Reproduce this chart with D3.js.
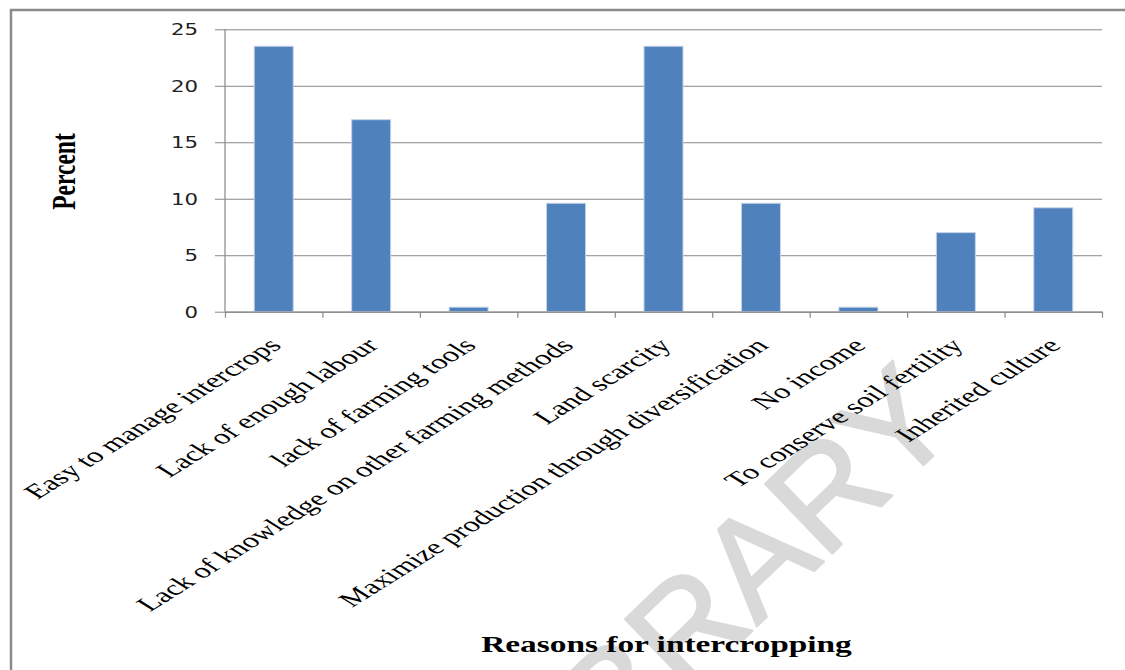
<!DOCTYPE html>
<html>
<head>
<meta charset="utf-8">
<script src="https://cdn.jsdelivr.net/npm/d3@7/dist/d3.min.js"></script>
<style>
  html, body { margin: 0; padding: 0; background: #fff; }
  svg { display: block; }
</style>
</head>
<body>
<svg id="chart" width="1125" height="670"></svg>
<script>
// ---- data ----
const categories = [
  "Easy to manage intercrops",
  "Lack of enough labour",
  "lack of farming tools",
  "Lack of knowledge on other farming methods",
  "Land scarcity",
  "Maximize production through diversification",
  "No income",
  "To conserve soil fertility",
  "Inherited culture"
];
const values = [23.5, 17.0, 0.4, 9.6, 23.5, 9.6, 0.4, 7.0, 9.2];
const yTicks = [0, 5, 10, 15, 20, 25];
const yTitle = "Percent";
const xTitle = "Reasons for intercropping";
const watermark = "LIBRARY";

// ---- layout ----
const W = 1125, H = 670;
const plot = { left: 225, right: 1102, top: 29.3, bottom: 311.7 };
const gridColor = "#878787";

const svg = d3.select("#chart");

// outer frame
svg.append("rect")
  .attr("x", 11).attr("y", 10)
  .attr("width", W + 20).attr("height", H + 20)
  .attr("fill", "#fff")
  .attr("stroke", "#8a8a8a")
  .attr("stroke-width", 2.5);

// watermark (behind everything)
svg.append("text")
  .attr("transform", "translate(962,428) rotate(-44)")
  .attr("text-anchor", "end")
  .attr("font-family", "Liberation Sans, Arial, sans-serif")
  .attr("font-size", 140)
  .attr("fill", "#d9d9d9")
  .attr("stroke", "#d9d9d9")
  .attr("stroke-width", 2.5)
  .attr("stroke-linejoin", "round")
  .text(watermark);

const x = d3.scaleBand()
  .domain(categories)
  .range([plot.left, plot.right])
  .paddingInner(0.6)
  .paddingOuter(0.3);

const y = d3.scaleLinear()
  .domain([0, 25])
  .range([plot.bottom, plot.top]);

// gridlines (extend 10px left of axis, like tick marks)
const grid = svg.append("g")
  .attr("transform", `translate(${plot.left - 10},0)`)
  .call(d3.axisRight(y).tickValues(yTicks)
    .tickSize(plot.right - plot.left + 10).tickFormat(""));
grid.select(".domain").remove();
grid.selectAll("line").attr("stroke", gridColor).attr("stroke-width", 1);

// y tick labels
const yAxis = svg.append("g")
  .attr("transform", `translate(${plot.left},0)`)
  .call(d3.axisLeft(y).tickValues(yTicks).tickSize(0).tickFormat(d3.format("d")));
yAxis.select(".domain").remove();
yAxis.selectAll("text")
  .attr("x", null)
  .attr("dy", "0.36em")
  .attr("transform", "translate(-27,0) scale(1.42,1)")
  .attr("font-family", "DejaVu Sans, Verdana, sans-serif")
  .attr("font-size", 15)
  .attr("fill", "#222");

// bars
svg.append("g").selectAll("rect")
  .data(values)
  .join("rect")
  .attr("x", (d, i) => x(categories[i]))
  .attr("width", x.bandwidth())
  .attr("y", d => y(d))
  .attr("height", d => y(0) - y(d))
  .attr("fill", "#4F81BD")
  .attr("stroke", "#c4d3e8")
  .attr("stroke-width", 1);

// y axis line
svg.append("line")
  .attr("x1", plot.left).attr("x2", plot.left)
  .attr("y1", plot.top).attr("y2", plot.bottom)
  .attr("stroke", gridColor).attr("stroke-width", 1.2);

// x axis: boundary ticks
const xEdge = d3.scaleLinear().domain([0, categories.length]).range([plot.left, plot.right]);
const xTicksG = svg.append("g")
  .attr("transform", `translate(0,${plot.bottom})`)
  .call(d3.axisBottom(xEdge).tickValues(d3.range(categories.length + 1))
    .tickSize(6).tickSizeOuter(0).tickFormat(""));
xTicksG.select(".domain").attr("stroke", gridColor).attr("stroke-width", 1.2);
xTicksG.selectAll("line").attr("stroke", gridColor).attr("stroke-width", 1.2);

// x category labels
const xLab = svg.append("g")
  .attr("transform", `translate(0,${plot.bottom})`)
  .call(d3.axisBottom(x).tickSize(0));
xLab.select(".domain").remove();
xLab.selectAll("text")
  .attr("y", null)
  .attr("dy", null)
  .attr("text-anchor", "end")
  .attr("transform", "translate(9,35) scale(1.6,1) rotate(-45)")
  .attr("font-family", "Liberation Serif, Times New Roman, serif")
  .attr("font-size", 20.5)
  .attr("fill", "#000");

// y axis title
svg.append("text")
  .attr("transform", "translate(75,171.5) scale(1.4,1) rotate(-90)")
  .attr("text-anchor", "middle")
  .attr("font-family", "Liberation Serif, Times New Roman, serif")
  .attr("font-weight", "bold")
  .attr("font-size", 23.5)
  .attr("fill", "#000")
  .text(yTitle);

// x axis title
svg.append("text")
  .attr("transform", `translate(${(plot.left + plot.right) / 2 + 3},652) scale(1.39,1)`)
  .attr("text-anchor", "middle")
  .attr("font-family", "Liberation Serif, Times New Roman, serif")
  .attr("font-weight", "bold")
  .attr("font-size", 24)
  .attr("fill", "#000")
  .text(xTitle);
</script>
</body>
</html>
